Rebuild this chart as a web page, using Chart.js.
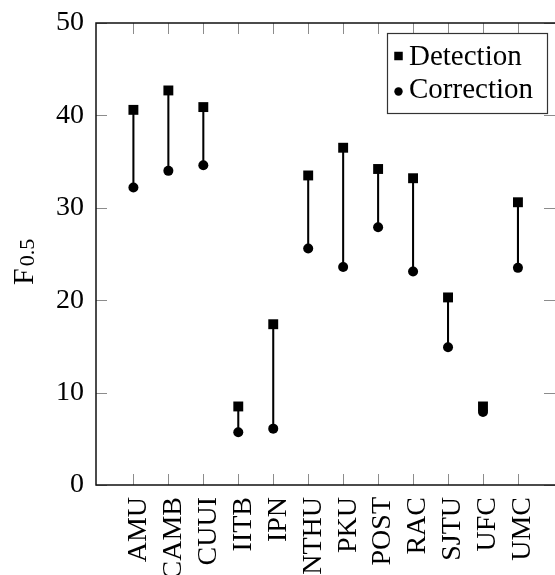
<!DOCTYPE html>
<html>
<head>
<meta charset="utf-8">
<script src="https://cdn.jsdelivr.net/npm/chart.js@4.4.0/dist/chart.umd.min.js"></script>
<style>
  html, body { margin: 0; padding: 0; background: #fff; }
  #wrap { width: 555px; height: 575px; position: relative; }
</style>
</head>
<body>
<div id="wrap"><canvas id="chart"></canvas></div>
<script>
// data
const systems = ["AMU", "CAMB", "CUUI", "IITB", "IPN", "NTHU", "PKU", "POST", "RAC", "SJTU", "UFC", "UMC"];
const detection = [40.6, 42.7, 40.9, 8.5, 17.4, 33.5, 36.5, 34.2, 33.2, 20.3, 8.5, 30.6];
const correction = [32.2, 34.0, 34.6, 5.7, 6.1, 25.6, 23.6, 27.9, 23.1, 14.9, 7.9, 23.5];
const yTicks = [0, 10, 20, 30, 40, 50];

const SERIF = "'Liberation Serif', 'Times New Roman', serif";
const TICK = 11;

// frame + inward ticks on all four sides
const frameAndTicks = {
  id: "frameAndTicks",
  beforeDatasetsDraw(chart) {
    const { ctx, chartArea: a, scales: { x, y } } = chart;
    ctx.save();
    ctx.strokeStyle = "#8c8c8c";
    ctx.lineWidth = 1;
    ctx.beginPath();
    systems.forEach((_, i) => {
      const px = Math.round(x.getPixelForValue(i)) + 0.5;
      ctx.moveTo(px, a.bottom); ctx.lineTo(px, a.bottom - TICK);
      ctx.moveTo(px, a.top); ctx.lineTo(px, a.top + TICK);
    });
    yTicks.forEach((v) => {
      const py = Math.round(y.getPixelForValue(v)) + 0.5;
      ctx.moveTo(a.left, py); ctx.lineTo(a.left + TICK, py);
      ctx.moveTo(a.right, py); ctx.lineTo(a.right - TICK, py);
    });
    ctx.stroke();

    ctx.strokeStyle = "#111";
    ctx.lineWidth = 1.5;
    ctx.beginPath();
    ctx.moveTo(a.right, a.top);
    ctx.lineTo(a.left, a.top);
    ctx.lineTo(a.left, a.bottom);
    ctx.lineTo(a.right, a.bottom);
    ctx.stroke();
    ctx.restore();
  },
};

// y title F_0.5 and boxed legend
const extras = {
  id: "extras",
  afterDraw(chart) {
    const { ctx, chartArea: a } = chart;
    ctx.save();
    ctx.fillStyle = "#000";

    // y axis title with subscript
    ctx.save();
    ctx.translate(33, 285);
    ctx.rotate(-Math.PI / 2);
    ctx.textBaseline = "alphabetic";
    ctx.font = "30px " + SERIF;
    ctx.fillText("F", 0, 0);
    const wF = ctx.measureText("F").width;
    ctx.font = "22px " + SERIF;
    ctx.fillText("0.5", wF + 2, 1);
    ctx.restore();

    // legend
    const box = { left: a.right - 168, top: a.top + 10, width: 160, height: 80 };
    ctx.fillStyle = "#fff";
    ctx.fillRect(box.left, box.top, box.width, box.height);
    ctx.strokeStyle = "#333";
    ctx.lineWidth = 1.2;
    ctx.strokeRect(box.left + 0.5, box.top + 0.5, box.width, box.height);

    ctx.fillStyle = "#000";
    const mx = box.left + 11.5;
    ctx.fillRect(mx - 4.25, box.top + 23 - 4.25, 8.5, 8.5);
    ctx.beginPath();
    ctx.arc(mx, box.top + 58.5, 4.2, 0, Math.PI * 2);
    ctx.fill();

    ctx.font = "29px " + SERIF;
    ctx.textBaseline = "alphabetic";
    ctx.fillText("Detection", box.left + 22, box.top + 32);
    ctx.fillText("Correction", box.left + 22, box.top + 65);
    ctx.restore();
  },
};

const ctx = document.getElementById("chart").getContext("2d");
new Chart(ctx, {
  type: "scatter",
  data: {
    datasets: [
      {
        label: "Detection",
        data: systems.map((_, i) => ({ x: i, y: detection[i] })),
        pointStyle: "rect",
        pointRadius: 7,
        pointBorderWidth: 0,
        pointBackgroundColor: "#000",
        backgroundColor: "#000",
        order: 1,
      },
      {
        label: "Correction",
        data: systems.map((_, i) => ({ x: i, y: correction[i] })),
        pointStyle: "circle",
        pointRadius: 5,
        pointBorderWidth: 0,
        pointBackgroundColor: "#000",
        backgroundColor: "#000",
        order: 2,
      },
      {
        type: "bar",
        label: "gap",
        data: systems.map((_, i) => ({ x: i, y: [correction[i], detection[i]] })),
        backgroundColor: "#000",
        borderWidth: 0,
        barThickness: 1.4,
        order: 3,
      },
    ],
  },
  options: {
    responsive: true,
    maintainAspectRatio: false,
    animation: false,
    layout: { autoPadding: false, padding: { top: 23, right: 0, left: 0, bottom: 0 } },
    plugins: { legend: { display: false }, tooltip: { enabled: false } },
    scales: {
      x: {
        type: "linear",
        bounds: "data",
        min: -1.07,
        max: 12.06,
        offset: false,
        afterBuildTicks: (s) => { s.ticks = systems.map((_, i) => ({ value: i })); },
        afterFit: (s) => {
          s.height = 90;
          // the rotated labels sit well inside the plot, no side padding needed
          s.paddingLeft = 0;
          s.paddingRight = 0;
        },
        grid: { display: false, drawTicks: false },
        border: { display: false },
        ticks: {
          autoSkip: false,
          minRotation: 90,
          maxRotation: 90,
          padding: 12,
          labelOffset: 5,
          color: "#000",
          font: { family: SERIF, size: 28 },
          callback: (v) => systems[v],
        },
      },
      y: {
        min: 0,
        max: 50,
        afterBuildTicks: (s) => { s.ticks = yTicks.map((v) => ({ value: v })); },
        afterFit: (s) => {
          s.width = 96;
          s.paddingTop = 0;
          s.paddingBottom = 0;
        },
        grid: { display: false, drawTicks: false },
        border: { display: false },
        ticks: {
          padding: 12,
          color: "#000",
          font: { family: SERIF, size: 28 },
        },
      },
    },
  },
  plugins: [frameAndTicks, extras],
});
</script>
</body>
</html>
